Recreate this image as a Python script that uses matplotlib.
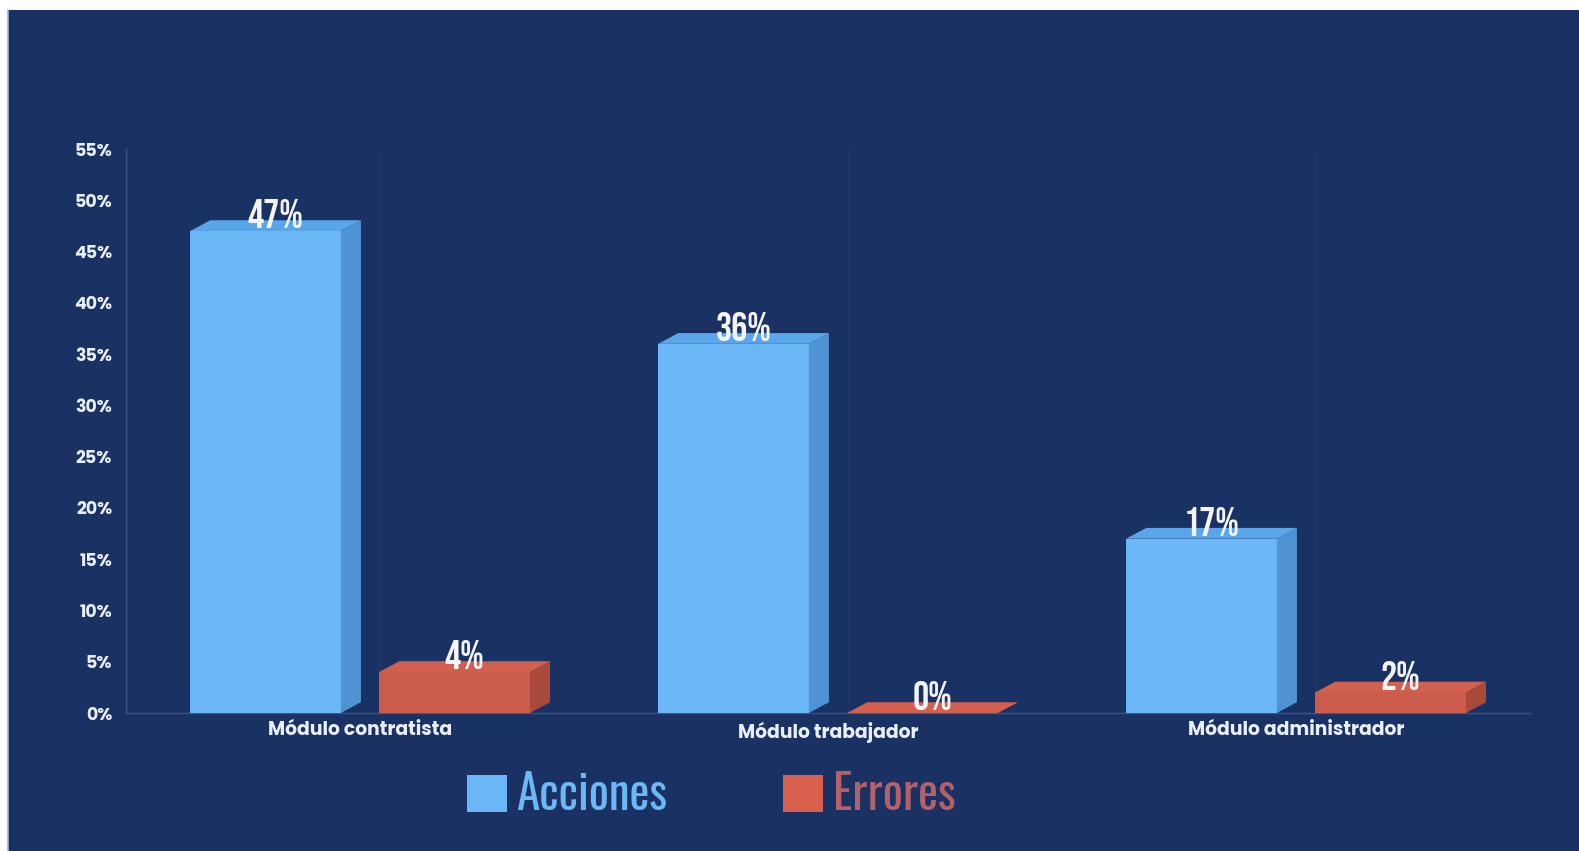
import matplotlib
matplotlib.use('Agg')
import matplotlib.pyplot as plt
from matplotlib.patches import Polygon, Rectangle, Patch
from matplotlib.lines import Line2D

# ---- data ----
categories = ['Módulo contratista', 'Módulo trabajador', 'Módulo administrador']
acciones = [47, 36, 17]
errores = [4, 0, 2]
series_names = ['Acciones', 'Errores']
yticks = [0, 5, 10, 15, 20, 25, 30, 35, 40, 45, 50, 55]
ytick_labels = [f'{v}%' for v in yticks]

# ---- style ----
BG = '#1a3163'
AC_FRONT, AC_SIDE, AC_TOP = '#6cb8f6', '#4f93d3', '#5aa6ea'
ER_FRONT, ER_SIDE, ER_TOP = '#cc5d4c', '#a9493c', '#d2604e'
TXT = '#e9eef7'
NARROW = ['Oswald', 'Bebas Neue', 'IBM Plex Sans Condensed', 'DejaVu Sans']
LABELF = ['Bebas Neue', 'Oswald', 'DejaVu Sans']
GEOM = ['Poppins', 'Montserrat', 'DejaVu Sans']

W = 1579
H = 851
fig = plt.figure(figsize=(W / 100, H / 100), dpi=100)
fig.patch.set_facecolor('white')
fig.add_artist(Rectangle((8 / W, 0), 1, 1 - 10 / H, transform=fig.transFigure,
                         facecolor=BG, edgecolor='none', zorder=0))
fig.add_artist(Line2D([8 / W, 8 / W], [0, 1 - 10 / H], transform=fig.transFigure,
                      color='#9db6dd', lw=1.2, zorder=1))

ax = fig.add_axes([126 / W, 1 - 713 / H, (1530 - 126) / W, (713 - 149) / H])
ax.set_facecolor('none')
ax.set_xlim(-0.5, 2.5)
ax.set_ylim(0, 55)

bw = 0.322
off = 0.202
dx = 0.043
dy = 1.05

for i in range(len(categories)):
    ax.axvline(i + dx, color='#22396d', lw=1, zorder=1)


def bar3d(xc, h, front, side, top):
    ax.bar(xc, h, width=bw, color=front, zorder=3, linewidth=0)
    xl, xr = xc - bw / 2, xc + bw / 2
    ax.add_patch(Polygon([(xr, 0), (xr + dx, dy), (xr + dx, h + dy), (xr, h)],
                         closed=True, facecolor=side, edgecolor='none', zorder=3, clip_on=False))
    ax.add_patch(Polygon([(xl, h), (xl + dx, h + dy), (xr + dx, h + dy), (xr, h)],
                         closed=True, facecolor=top, edgecolor='none', zorder=3, clip_on=False))


for i, (a, e) in enumerate(zip(acciones, errores)):
    for xc, v, cols in [(i - off, a, (AC_FRONT, AC_SIDE, AC_TOP)),
                        (i + off, e, (ER_FRONT, ER_SIDE, ER_TOP))]:
        bar3d(xc, v, *cols)
        ax.text(xc + dx / 2, v + 0.25, f'{v}%', ha='center', va='bottom',
                fontsize=29, family=LABELF, color='#f4f4f6',
                zorder=5, clip_on=False)

for s in ['top', 'right']:
    ax.spines[s].set_visible(False)
for s in ['left', 'bottom']:
    ax.spines[s].set_color('#3a5486')
    ax.spines[s].set_linewidth(1)
ax.spines['bottom'].set_zorder(2)

ax.set_yticks(yticks)
ax.set_yticklabels(ytick_labels)
ax.set_xticks(range(len(categories)))
ax.set_xticklabels(categories)
ax.tick_params(axis='both', length=0, colors=TXT)
ax.tick_params(axis='y', pad=10)
ax.tick_params(axis='x', pad=6)
for lab in ax.get_yticklabels():
    lab.set_fontweight('bold')
    lab.set_family(GEOM)
    lab.set_fontsize(12.5)
    lab.set_color(TXT)
for lab in ax.get_xticklabels():
    lab.set_fontweight('bold')
    lab.set_family(GEOM)
    lab.set_fontsize(13.5)
    lab.set_color(TXT)

handles = [Patch(facecolor=AC_FRONT, edgecolor='none'), Patch(facecolor='#d9604c', edgecolor='none')]
leg = fig.legend(handles, series_names, loc='center', bbox_to_anchor=(711 / W, 1 - 795 / H),
                 ncol=2, frameon=False, prop={'family': NARROW, 'size': 34},
                 handlelength=0.85, handleheight=0.85, handletextpad=0.2, columnspacing=2.45)
leg.get_texts()[0].set_color('#6cb8f6')
leg.get_texts()[1].set_color('#b2606a')

fig.savefig('out.png', dpi=100, facecolor=fig.get_facecolor())
